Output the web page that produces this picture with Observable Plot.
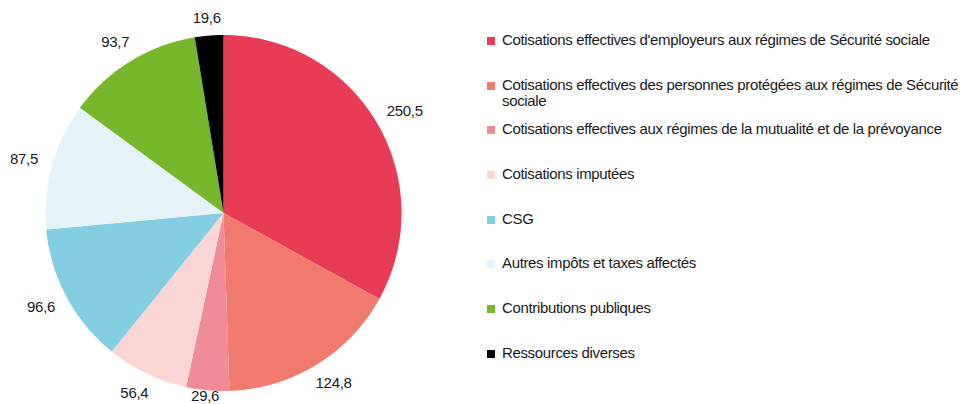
<!DOCTYPE html>
<html>
<head>
<meta charset="utf-8">
<script src="https://cdn.jsdelivr.net/npm/d3@7"></script>
<script src="https://cdn.jsdelivr.net/npm/@observablehq/plot@0.6"></script>
<style>
  html, body { margin: 0; padding: 0; background: #fff; }
  #wrap { position: relative; width: 967px; height: 404px; overflow: hidden; font-family: "Liberation Sans", Arial, sans-serif; }
  #wrap svg text { letter-spacing: -0.3px; }
  #legend { position: absolute; left: 487px; top: 32px; width: 475px; font-size: 15px; letter-spacing: -0.35px; color: #1a1a1a; }
  .item { position: relative; height: 44.7px; padding-left: 15px; line-height: 16.5px; box-sizing: border-box; }
  .sw { position: absolute; left: 0; top: 5px; width: 8px; height: 8px; }
</style>
</head>
<body>
<div id="wrap"><div id="legend"></div></div>
<script>
const categories = [
  "Cotisations effectives d'employeurs aux régimes de Sécurité sociale",
  "Cotisations effectives des personnes protégées aux régimes de Sécurité sociale",
  "Cotisations effectives aux régimes de la mutualité et de la prévoyance",
  "Cotisations imputées",
  "CSG",
  "Autres impôts et taxes affectés",
  "Contributions publiques",
  "Ressources diverses"
];
const values = [250.5, 124.8, 29.6, 56.4, 96.6, 87.5, 93.7, 19.6];
const colors = ["#e83c56", "#ef7a6d", "#f08b98", "#f9d6d3", "#83cee1", "#e5f3f9", "#77b72b", "#000000"];

// geometry of the pie (pixels)
const W = 967, H = 404, cx = 223, cy = 212.5, R = 178;

const total = d3.sum(values);
let acc = 0;
const slices = values.map((v, i) => {
  const a0 = acc / total * 360;
  acc += v;
  const a1 = acc / total * 360;
  const pts = [{x: 0, y: 0}];
  const n = Math.max(2, Math.ceil((a1 - a0) / 0.5));
  for (let k = 0; k <= n; k++) {
    const a = (a0 + (a1 - a0) * k / n) * Math.PI / 180;
    pts.push({x: Math.sin(a), y: Math.cos(a)});
  }
  return {i, v, a0, a1, pts, color: colors[i]};
});

const fmt = v => v.toFixed(1).replace(".", ",");
const labels = slices.map(s => {
  const am = (s.a0 + s.a1) / 2 * Math.PI / 180;
  const ux = Math.sin(am), uy = -Math.cos(am); // pixel direction (y down)
  const w = fmt(s.v).length * 7, h = 14, g = 15;
  let px = cx + (R + g) * ux + ux * w / 2;
  let py = cy + (R + g) * uy + uy * h / 2;
  py = Math.min(H - 8, Math.max(18, py));
  return {x: (px - cx) / R, y: (cy - py) / R, text: fmt(s.v)};
});

const plot = Plot.plot({
  width: W, height: H, margin: 0,
  x: {domain: [-1, 1], range: [cx - R, cx + R], axis: null},
  y: {domain: [-1, 1], range: [cy + R, cy - R], axis: null},
  style: {fontFamily: '"Liberation Sans", Arial, sans-serif', background: "transparent"},
  marks: [
    ...slices.map(s => Plot.line(s.pts, {x: "x", y: "y", fill: s.color, stroke: "none", curve: "linear-closed"})),
    Plot.text(labels, {x: "x", y: "y", text: "text", fontSize: 15, fill: "#1a1a1a", textAnchor: "middle", lineAnchor: "middle"})
  ]
});
const wrap = document.getElementById("wrap");
wrap.insertBefore(plot, wrap.firstChild);

const legend = d3.select("#legend");
categories.forEach((c, i) => {
  const it = legend.append("div").attr("class", "item");
  it.append("div").attr("class", "sw").style("background", colors[i]);
  it.append("span").text(c);
});
</script>
</body>
</html>
